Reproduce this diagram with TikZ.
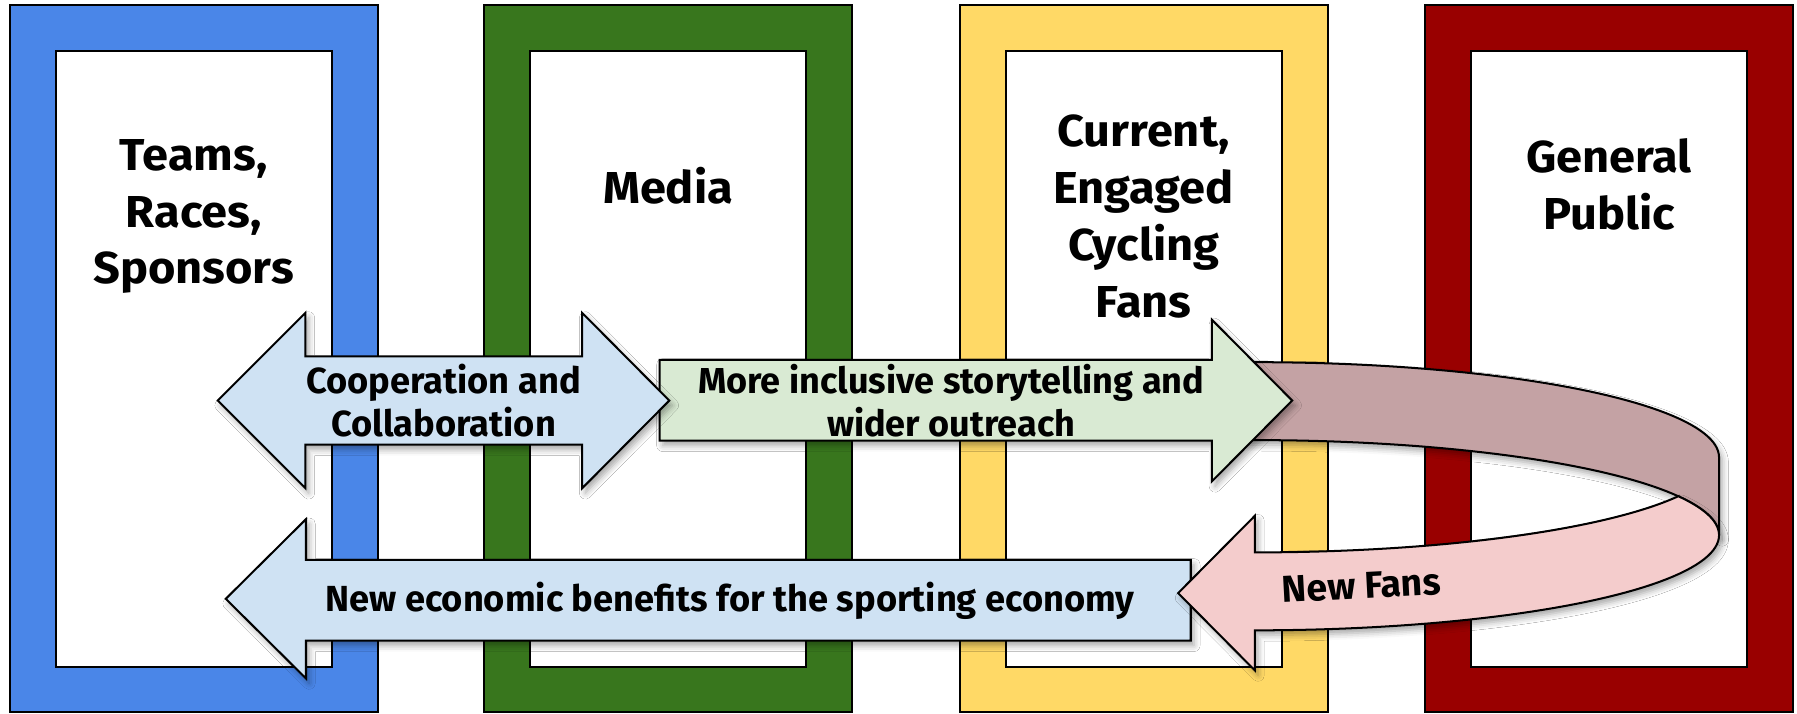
\documentclass[tikz,border=0pt]{standalone}
\usepackage{fontspec}
\setmainfont{Fira Sans}
\newfontfamily\titlefont{Fira Sans}[FakeStretch=1.05]
\usetikzlibrary{shadows.blur}
\definecolor{fblue}{HTML}{4A86E8}
\definecolor{fgreen}{HTML}{38761D}
\definecolor{fyellow}{HTML}{FFD966}
\definecolor{fred}{HTML}{990000}
\definecolor{alblue}{HTML}{CFE2F3}
\definecolor{agreen}{HTML}{D9EAD3}
\definecolor{apink}{HTML}{F4CCCC}
\definecolor{ribdark}{HTML}{C4A2A4}
\begin{document}
\begin{tikzpicture}[x=0.01cm,y=-0.01cm,line join=miter,
  frame/.style={draw=black,line width=0.5pt},
  arr/.style={draw=black,line width=0.5pt,blur shadow={shadow xshift=0.8pt,shadow yshift=-1.2pt,shadow blur radius=1.5pt,shadow opacity=35}},
  title/.style={font=\titlefont\fontsize{11.1}{14.1}\selectfont\bfseries,align=center,inner sep=0pt},
  lab/.style={font=\fontsize{9.0}{10.5}\selectfont\bfseries,align=center,inner sep=0pt},
  labs/.style={font=\fontsize{8.95}{10.8}\selectfont\bfseries,align=center,inner sep=0pt},
  labf/.style={font=\fontsize{9.3}{10.5}\selectfont\bfseries,align=center,inner sep=0pt}]
\useasboundingbox (0,0) rectangle (1568,623);
% frames
\foreach \x/\c in {8.5/fblue,422.5/fgreen,837.5/fyellow,1243.5/fred}{
  \filldraw[frame,fill=\c] (\x,4.5) rectangle ++(321,617);
  \filldraw[frame,fill=white] (\x+40,44.5) rectangle ++(241,537.5);
}
\node[title] (teams) at (169,189) {Teams,\\Races,\\Sponsors};
\node[title] (media) at (583,162) {Media};
\node[title] (fans) at (998,189) {Current,\\Engaged\\Cycling\\Fans};
\node[title] (public) at (1404,161) {General\\Public};
% ribbon back (dark)
\filldraw[arr,fill=ribdark] (1070,316) -- (1095,316)
  -- plot[domain=90:0,samples=50] ({1095+405*cos(\x)},{399-83*sin(\x)})
  -- (1500,467)
  -- plot[domain=0:90,samples=50] ({1095+405*cos(\x)},{467-83*sin(\x)})
  -- (1070,384) -- cycle;
% green arrow
\filldraw[arr,fill=agreen] (575.5,314) -- (1057.5,314) -- (1057.5,279) -- (1127.5,349.5)
  -- (1057.5,420) -- (1057.5,384.5) -- (575.5,384.5) -- cycle;
\node[labs] (story) at (830,349.5) {More inclusive storytelling and\\wider outreach};
% blue double arrow
\filldraw[arr,fill=alblue] (190,349.5) -- (266.5,273) -- (266.5,311) -- (508,311) -- (508,273)
  -- (584,349.5) -- (508,426) -- (508,388) -- (266.5,388) -- (266.5,426) -- cycle;
\node[lab] (coop) at (387,349.5) {Cooperation and\\Collaboration};
% bottom blue arrow
\filldraw[arr,fill=alblue] (197,522.5) -- (267,453) -- (267,488.5) -- (1039,488.5)
  -- (1039,559) -- (267,559) -- (267,592) -- cycle;
\node[lab] (econ) at (637,524) {New economic benefits for the sporting economy};
% pink front of ribbon
\filldraw[arr,fill=apink] (1028,517.5) -- (1095,450) -- (1095,482)
  -- plot[domain=90:24.18,samples=50] ({1095+405*cos(\x)},{399+83*sin(\x)})
  -- plot[domain=24.18:0,samples=20] ({1095+405*cos(\x)},{467-83*sin(\x)})
  -- plot[domain=0:90,samples=50] ({1095+405*cos(\x)},{467+83*sin(\x)})
  -- (1095,585) -- cycle;
\node[labf,rotate=3] (newfans) at (1188,511) {New Fans};
\end{tikzpicture}
\end{document}
